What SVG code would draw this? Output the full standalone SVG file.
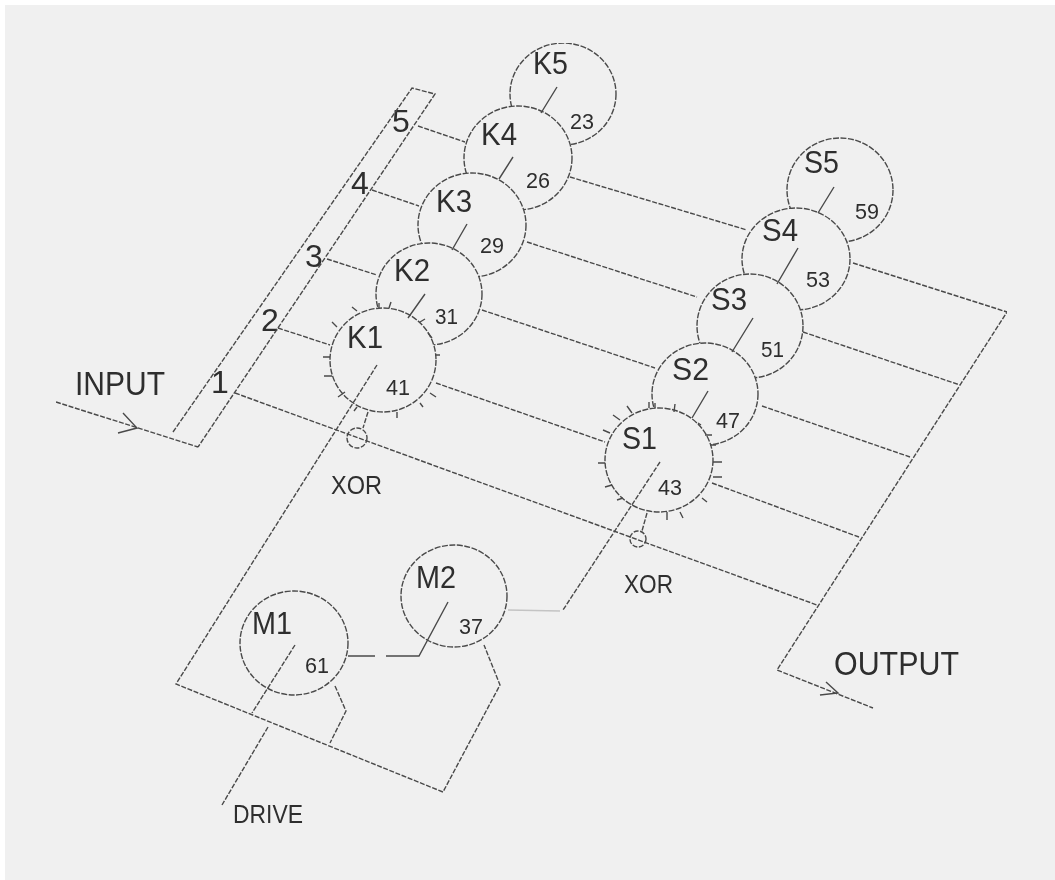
<svg xmlns="http://www.w3.org/2000/svg" width="1055" height="880" viewBox="0 0 1055 880">
<style>
.c{fill:#f0f0f0;stroke:#4a4a4a;stroke-width:1.4;stroke-dasharray:6 1.5}
.l{fill:none;stroke:#4a4a4a;stroke-width:1.4;stroke-dasharray:5 1.6}
.s{fill:none;stroke:#4a4a4a;stroke-width:1.4}
.f{fill:none;stroke:#c4c4c4;stroke-width:1.4}
text{font-family:"Liberation Sans",Arial,sans-serif;fill:#2e2e2e}
.a{font-size:31px}
.b{font-size:22px}
.d{font-size:32px}
.e{font-size:33px}
.x{font-size:25px}
</style>
<defs><filter id="soft" x="0" y="0" width="100%" height="100%"><feGaussianBlur stdDeviation="0.55"/></filter></defs>
<rect width="1055" height="880" fill="#ffffff"/>
<rect x="5" y="5" width="1050" height="875" fill="#f0f0f0"/>
<g filter="url(#soft)">
<g id="K5"><ellipse class="c" cx="563" cy="94" rx="53" ry="51"/><text class="a" x="533" y="74" textLength="35" lengthAdjust="spacingAndGlyphs">K5</text><text class="b" x="570" y="129" textLength="24" lengthAdjust="spacingAndGlyphs">23</text></g>
<g id="K4"><ellipse class="c" cx="518" cy="158" rx="54" ry="52"/><text class="a" x="481" y="145" textLength="36" lengthAdjust="spacingAndGlyphs">K4</text><text class="b" x="526" y="188" textLength="24" lengthAdjust="spacingAndGlyphs">26</text></g>
<g id="K3"><ellipse class="c" cx="472" cy="225" rx="54" ry="52"/><text class="a" x="436" y="212" textLength="36" lengthAdjust="spacingAndGlyphs">K3</text><text class="b" x="480" y="253" textLength="24" lengthAdjust="spacingAndGlyphs">29</text></g>
<g id="K2"><ellipse class="c" cx="429" cy="294" rx="53" ry="51"/><text class="a" x="394" y="281" textLength="36" lengthAdjust="spacingAndGlyphs">K2</text><text class="b" x="435" y="324" textLength="23" lengthAdjust="spacingAndGlyphs">31</text></g>
<g id="K1"><ellipse class="c" cx="383" cy="360" rx="53" ry="52"/><text class="a" x="347" y="348" textLength="36" lengthAdjust="spacingAndGlyphs">K1</text><text class="b" x="386" y="395" textLength="24" lengthAdjust="spacingAndGlyphs">41</text></g>
<g id="S5"><ellipse class="c" cx="840" cy="190" rx="53" ry="52"/><text class="a" x="804" y="173" textLength="35" lengthAdjust="spacingAndGlyphs">S5</text><text class="b" x="855" y="219" textLength="24" lengthAdjust="spacingAndGlyphs">59</text></g>
<g id="S4"><ellipse class="c" cx="796" cy="259" rx="54" ry="51"/><text class="a" x="762" y="241" textLength="36" lengthAdjust="spacingAndGlyphs">S4</text><text class="b" x="806" y="287" textLength="24" lengthAdjust="spacingAndGlyphs">53</text></g>
<g id="S3"><ellipse class="c" cx="750" cy="326" rx="53" ry="52"/><text class="a" x="711" y="310" textLength="36" lengthAdjust="spacingAndGlyphs">S3</text><text class="b" x="761" y="357" textLength="23" lengthAdjust="spacingAndGlyphs">51</text></g>
<g id="S2"><ellipse class="c" cx="705" cy="394" rx="53" ry="51"/><text class="a" x="672" y="380" textLength="37" lengthAdjust="spacingAndGlyphs">S2</text><text class="b" x="716" y="428" textLength="24" lengthAdjust="spacingAndGlyphs">47</text></g>
<g id="S1"><ellipse class="c" cx="659" cy="460" rx="54" ry="52"/><text class="a" x="622" y="449" textLength="35" lengthAdjust="spacingAndGlyphs">S1</text><text class="b" x="658" y="495" textLength="24" lengthAdjust="spacingAndGlyphs">43</text></g>
<g id="M1"><ellipse class="c" cx="294" cy="643" rx="54" ry="52"/><text class="a" x="252" y="634" textLength="40" lengthAdjust="spacingAndGlyphs">M1</text><text class="b" x="305" y="673" textLength="24" lengthAdjust="spacingAndGlyphs">61</text></g>
<g id="M2"><ellipse class="c" cx="454" cy="596" rx="53" ry="51"/><text class="a" x="416" y="588" textLength="40" lengthAdjust="spacingAndGlyphs">M2</text><text class="b" x="459" y="634" textLength="24" lengthAdjust="spacingAndGlyphs">37</text></g>
<g id="XOR1"><circle class="l" cx="357" cy="438" r="10" fill="none"/><text class="x" x="331" y="494" textLength="51" lengthAdjust="spacingAndGlyphs">XOR</text></g>
<g id="XOR2"><circle class="l" cx="638" cy="539" r="8" fill="none"/><text class="x" x="624" y="593" textLength="49" lengthAdjust="spacingAndGlyphs">XOR</text></g>
<g id="bus-labels">
<text class="d" x="392" y="132">5</text><text class="d" x="351" y="194">4</text><text class="d" x="305" y="267">3</text><text class="d" x="261" y="331">2</text><text class="d" x="211" y="393">1</text>
<text class="e" x="75" y="395" textLength="90" lengthAdjust="spacingAndGlyphs">INPUT</text>
<text class="e" x="834" y="675" textLength="125" lengthAdjust="spacingAndGlyphs">OUTPUT</text>
<text class="x" x="233" y="823" textLength="70" lengthAdjust="spacingAndGlyphs">DRIVE</text>
</g>
<g id="connectors">
<path class="l" d="M173 432L412 88L435 94L198 447M56 402L198 447"/>
<path class="s" d="M123 413L137 428L118 433M826 682L838 693L820 695"/>
<path class="l" d="M418 126L465 142M372 190L419 206M327 259L377 275M278 328L330 345M235 393L817 605"/>
<path class="l" d="M436 383L605 442M482 310L655 368M527 242L697 297M570 177L747 230"/>
<path class="l" d="M712 483L859 537M762 406L910 457M803 332L960 385M853 263L1007 312L777 670L873 708"/>
<path class="l" d="M377 365L176 684L443 792L500 685L484 645M295 645L252 713M268 727L222 805"/>
<path class="s" d="M348 656H375M386 656H419L448 602"/>
<path class="l" d="M335 686L346 711L330 743"/>
<path class="f" d="M508 610L560 611"/>
<path class="l" d="M660 462L563 610"/>
<path class="s" d="M425 294L408 318M467 224L452 250M513 157L499 179M557 87L541 113M708 391L692 418M753 318L732 352M798 248L777 284M834 187L818 213"/>
<path class="l" d="M368 412L363 428M647 513L642 531"/>
<path class="s" d="M357 311L352 307M337 327L332 322M330 357L323 357M332 376L324 376M345 392L338 397M357 407L354 411M397 412L397 418M420 403L423 407M430 393L436 397M435 355L440 355M428 333L432 338M420 322L425 319M389 308L391 302M379 308L379 303"/>
<path class="s" d="M632 413L627 406M620 420L613 415M610 433L603 430M605 463L598 463M612 485L605 487M623 498L617 500M667 512L667 520M680 512L683 518M702 498L707 502M713 477L722 477M713 462L722 462M710 445L716 445M705 435L712 435M698 423L701 425M674 412L675 404M649 408L649 402M655 408L655 403"/>
</g>
</g>
</svg>
